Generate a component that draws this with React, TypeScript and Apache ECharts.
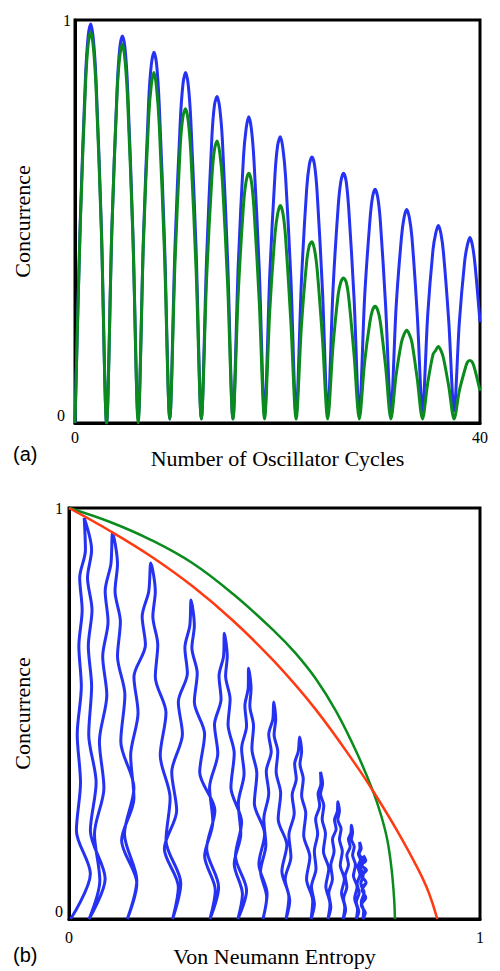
import React, { useEffect, useRef } from "react";
import * as echarts from "echarts";

// ---------- Panel (a): concurrence vs number of oscillator cycles ----------
const cycleTime = [
  0, 0.52, 1.04, 1.3, 1.56, 1.82, 2.08, 2.6,
  3.12, 3.64, 4.16, 4.42, 4.68, 4.94, 5.2, 5.72,
  6.24, 6.76, 7.28, 7.54, 7.8, 8.06, 8.32, 8.84,
  9.36, 9.88, 10.4, 10.66, 10.92, 11.18, 11.44, 11.96,
  12.48, 13, 13.52, 13.78, 14.04, 14.3, 14.56, 15.08,
  15.6, 16.12, 16.64, 16.9, 17.16, 17.42, 17.68, 18.2,
  18.72, 19.24, 19.76, 20.02, 20.28, 20.54, 20.8, 21.32,
  21.84, 22.36, 22.88, 23.14, 23.4, 23.66, 23.92, 24.44,
  24.96, 25.48, 26, 26.26, 26.52, 26.78, 27.04, 27.56,
  28.08, 28.6, 29.12, 29.38, 29.64, 29.9, 30.16, 30.68,
  31.2, 31.72, 32.24, 32.5, 32.76, 33.02, 33.28, 33.8,
  34.32, 34.84, 35.36, 35.62, 35.88, 36.14, 36.4, 36.92,
  37.44, 37.96, 38.48, 38.74, 39, 39.26, 39.52, 40,
];

const blueConcurrence = [
  0, 0.5, 0.86, 0.96, 0.99, 0.95, 0.85, 0.49,
  0, 0.48, 0.83, 0.93, 0.96, 0.93, 0.83, 0.47,
  0.01, 0.46, 0.8, 0.89, 0.92, 0.89, 0.79, 0.45,
  0.01, 0.44, 0.75, 0.84, 0.87, 0.84, 0.75, 0.43,
  0.01, 0.41, 0.71, 0.79, 0.81, 0.78, 0.7, 0.4,
  0.01, 0.39, 0.66, 0.73, 0.76, 0.73, 0.65, 0.38,
  0.02, 0.37, 0.62, 0.69, 0.71, 0.68, 0.61, 0.36,
  0.02, 0.35, 0.58, 0.64, 0.66, 0.64, 0.57, 0.33,
  0.02, 0.33, 0.54, 0.6, 0.62, 0.6, 0.53, 0.31,
  0.02, 0.31, 0.5, 0.56, 0.58, 0.56, 0.5, 0.29,
  0.03, 0.29, 0.46, 0.51, 0.53, 0.51, 0.46, 0.27,
  0.03, 0.27, 0.43, 0.47, 0.49, 0.47, 0.42, 0.25,
  0.03, 0.25, 0.4, 0.44, 0.46, 0.44, 0.39, 0.25,
];

const greenConcurrence = [
  0, 0.49, 0.84, 0.94, 0.97, 0.93, 0.83, 0.48,
  0, 0.48, 0.82, 0.91, 0.94, 0.9, 0.8, 0.46,
  0, 0.45, 0.76, 0.84, 0.87, 0.83, 0.74, 0.42,
  0.01, 0.4, 0.69, 0.76, 0.78, 0.75, 0.67, 0.38,
  0.01, 0.36, 0.61, 0.68, 0.7, 0.67, 0.6, 0.34,
  0.01, 0.32, 0.54, 0.6, 0.62, 0.6, 0.53, 0.3,
  0.01, 0.28, 0.47, 0.52, 0.54, 0.52, 0.46, 0.25,
  0.01, 0.24, 0.4, 0.44, 0.45, 0.43, 0.38, 0.21,
  0.01, 0.19, 0.32, 0.35, 0.36, 0.35, 0.31, 0.17,
  0.01, 0.15, 0.25, 0.28, 0.29, 0.28, 0.25, 0.14,
  0.01, 0.12, 0.2, 0.22, 0.23, 0.22, 0.2, 0.11,
  0.01, 0.1, 0.17, 0.18, 0.19, 0.18, 0.16, 0.09,
  0.01, 0.08, 0.13, 0.15, 0.155, 0.15, 0.13, 0.08,
];

// ---------- Panel (b): concurrence vs von Neumann entropy ----------
const greenBoundEntropy = [0, 0.1, 0.2, 0.3, 0.4, 0.5, 0.55, 0.6, 0.65, 0.7, 0.74, 0.76, 0.775, 0.785, 0.791, 0.793];
const greenBoundConcurrence = [1, 0.966, 0.922, 0.866, 0.79, 0.7, 0.648, 0.585, 0.505, 0.405, 0.31, 0.25, 0.19, 0.12, 0.05, 0];

const redBoundEntropy = [0, 0.1, 0.2, 0.3, 0.4, 0.5, 0.6, 0.7, 0.75, 0.8, 0.85, 0.875, 0.896];
const redBoundConcurrence = [1, 0.944, 0.882, 0.81, 0.725, 0.626, 0.51, 0.372, 0.295, 0.212, 0.12, 0.065, 0];

// rising strand of each cycle (entropy, concurrence)
const riseEntropy = [
  [0.004, 0.052, 0.018, 0.028, 0.02, 0.03, 0.024, 0.032, 0.026, 0.04, 0.037],
  [0.049, 0.075, 0.062, 0.085, 0.074, 0.092, 0.082, 0.095, 0.088, 0.102, 0.106],
  [0.142, 0.165, 0.128, 0.158, 0.15, 0.168, 0.158, 0.186, 0.178, 0.194, 0.199],
  [0.252, 0.266, 0.232, 0.262, 0.25, 0.276, 0.266, 0.288, 0.282, 0.294, 0.297],
  [0.343, 0.356, 0.33, 0.35, 0.342, 0.362, 0.354, 0.37, 0.365, 0.376, 0.378],
  [0.411, 0.422, 0.402, 0.418, 0.412, 0.426, 0.42, 0.432, 0.428, 0.436, 0.437],
  [0.472, 0.481, 0.466, 0.479, 0.474, 0.486, 0.48, 0.492, 0.486, 0.496, 0.498],
  [0.528, 0.537, 0.526, 0.54, 0.535, 0.548, 0.543, 0.553, 0.549, 0.558, 0.561],
  [0.589, 0.597, 0.59, 0.601, 0.597, 0.605, 0.6, 0.61, 0.606, 0.613, 0.612],
  [0.63, 0.637, 0.632, 0.641, 0.637, 0.645, 0.641, 0.65, 0.646, 0.653, 0.654],
  [0.667, 0.673, 0.668, 0.676, 0.672, 0.68, 0.676, 0.684, 0.68, 0.686, 0.687],
  [0.699, 0.705, 0.699, 0.706, 0.701, 0.708, 0.703, 0.709, 0.704, 0.708, 0.707],
  [0.715, 0.721, 0.711, 0.722, 0.713, 0.723, 0.712, 0.721, 0.713, 0.719, 0.716],
];
const riseConcurrence = [
  [0, 0.11, 0.215, 0.332, 0.449, 0.566, 0.664, 0.752, 0.83, 0.898, 0.976],
  [0, 0.094, 0.207, 0.319, 0.432, 0.545, 0.639, 0.723, 0.798, 0.864, 0.939],
  [0, 0.087, 0.191, 0.294, 0.398, 0.502, 0.589, 0.667, 0.736, 0.797, 0.866],
  [0, 0.078, 0.171, 0.264, 0.357, 0.45, 0.528, 0.598, 0.66, 0.714, 0.776],
  [0, 0.07, 0.153, 0.236, 0.32, 0.403, 0.473, 0.535, 0.591, 0.639, 0.695],
  [0, 0.061, 0.134, 0.207, 0.281, 0.354, 0.415, 0.47, 0.519, 0.561, 0.61],
  [0, 0.053, 0.116, 0.18, 0.243, 0.306, 0.359, 0.407, 0.449, 0.486, 0.528],
  [0, 0.044, 0.097, 0.151, 0.204, 0.257, 0.301, 0.341, 0.377, 0.408, 0.443],
  [0, 0.036, 0.079, 0.122, 0.165, 0.208, 0.243, 0.276, 0.304, 0.329, 0.358],
  [0, 0.029, 0.063, 0.097, 0.131, 0.165, 0.194, 0.219, 0.242, 0.262, 0.285],
  [0, 0.023, 0.05, 0.078, 0.105, 0.132, 0.155, 0.176, 0.194, 0.21, 0.228],
  [0, 0.019, 0.041, 0.064, 0.086, 0.108, 0.127, 0.144, 0.159, 0.172, 0.187],
  [0, 0.015, 0.034, 0.052, 0.071, 0.089, 0.105, 0.119, 0.131, 0.142, 0.154],
];

// falling strand of each cycle (entropy, concurrence)
const fallEntropy = [
  [0.055, 0.045, 0.056, 0.047, 0.055, 0.048, 0.066, 0.052, 0.088, 0.049],
  [0.118, 0.112, 0.125, 0.118, 0.136, 0.126, 0.158, 0.135, 0.165, 0.142],
  [0.21, 0.204, 0.216, 0.21, 0.236, 0.222, 0.246, 0.236, 0.272, 0.252],
  [0.305, 0.299, 0.312, 0.305, 0.33, 0.318, 0.355, 0.335, 0.364, 0.343],
  [0.385, 0.381, 0.392, 0.387, 0.402, 0.394, 0.42, 0.405, 0.432, 0.411],
  [0.443, 0.44, 0.449, 0.445, 0.457, 0.451, 0.476, 0.462, 0.482, 0.472],
  [0.503, 0.499, 0.508, 0.504, 0.515, 0.509, 0.53, 0.518, 0.535, 0.528],
  [0.566, 0.562, 0.57, 0.566, 0.576, 0.571, 0.586, 0.578, 0.593, 0.589],
  [0.617, 0.612, 0.62, 0.616, 0.624, 0.619, 0.632, 0.625, 0.635, 0.63],
  [0.658, 0.654, 0.662, 0.658, 0.665, 0.66, 0.67, 0.663, 0.671, 0.667],
  [0.69, 0.687, 0.694, 0.69, 0.697, 0.692, 0.701, 0.695, 0.702, 0.699],
  [0.711, 0.706, 0.713, 0.708, 0.716, 0.71, 0.718, 0.711, 0.717, 0.715],
  [0.722, 0.711, 0.724, 0.712, 0.723, 0.714],
];
const fallConcurrence = [
  [0.898, 0.83, 0.752, 0.664, 0.566, 0.449, 0.332, 0.215, 0.098, 0],
  [0.864, 0.798, 0.723, 0.639, 0.545, 0.432, 0.319, 0.207, 0.094, 0],
  [0.797, 0.736, 0.667, 0.589, 0.502, 0.398, 0.294, 0.191, 0.087, 0],
  [0.714, 0.66, 0.598, 0.528, 0.45, 0.357, 0.264, 0.171, 0.078, 0],
  [0.639, 0.591, 0.535, 0.473, 0.403, 0.32, 0.236, 0.153, 0.07, 0],
  [0.561, 0.519, 0.47, 0.415, 0.354, 0.281, 0.207, 0.134, 0.061, 0],
  [0.486, 0.449, 0.407, 0.359, 0.306, 0.243, 0.18, 0.116, 0.053, 0],
  [0.408, 0.377, 0.341, 0.301, 0.257, 0.204, 0.151, 0.097, 0.044, 0],
  [0.329, 0.304, 0.276, 0.243, 0.208, 0.165, 0.122, 0.079, 0.036, 0],
  [0.262, 0.242, 0.219, 0.194, 0.165, 0.131, 0.097, 0.063, 0.029, 0],
  [0.21, 0.194, 0.176, 0.155, 0.132, 0.105, 0.078, 0.05, 0.023, 0],
  [0.172, 0.159, 0.144, 0.127, 0.108, 0.086, 0.064, 0.041, 0.019, 0],
  [0.142, 0.131, 0.119, 0.105, 0.089, 0.08],
];

const xTicksA = [0, 40];
const xTicksB = [0, 1];
const yTicks = [0, 1];

const zip = (xs: number[], ys: number[]) => xs.map((x, i) => [x, ys[i]]);

const loopData: number[][] = [];
riseEntropy.forEach((xs, c) => {
  zip(xs, riseConcurrence[c]).forEach((p) => loopData.push(p));
  zip(fallEntropy[c], fallConcurrence[c]).forEach((p) => loopData.push(p));
});

const SERIF = "Liberation Serif";
const SANS = "Liberation Sans";
const BLUE = "#2532f2";
const GREEN = "#0b8b1d";
const RED = "#ff3a12";

const frameAxis = (extra: any) => ({
  type: "value",
  axisLine: { show: true, lineStyle: { color: "#000", width: 3 } },
  axisTick: { show: false },
  splitLine: { show: false },
  ...extra,
});

const tickFont = { color: "#000", fontFamily: SERIF, fontSize: 16 };

export default function App() {
  const ref = useRef<HTMLDivElement>(null);
  useEffect(() => {
    const chart = echarts.init(ref.current!, null, { renderer: "svg" });
    const option: any = {
      animation: false,
      backgroundColor: "#fff",
      grid: [
        { left: 75, top: 20, width: 405, height: 403, show: true, borderColor: "#000", borderWidth: 3 },
        { left: 69, top: 508, width: 411, height: 411, show: true, borderColor: "#000", borderWidth: 3 },
      ],
      xAxis: [
        frameAxis({
          gridIndex: 0,
          min: xTicksA[0],
          max: xTicksA[1],
          interval: xTicksA[1] - xTicksA[0],
          axisLabel: { ...tickFont, margin: 6 },
          name: "Number of Oscillator Cycles",
          nameLocation: "middle",
          nameGap: 24,
          nameTextStyle: { color: "#000", fontFamily: SERIF, fontSize: 22 },
        }),
        frameAxis({
          gridIndex: 1,
          min: xTicksB[0],
          max: xTicksB[1],
          interval: xTicksB[1] - xTicksB[0],
          axisLabel: { ...tickFont, margin: 10 },
          name: "Von Neumann Entropy",
          nameLocation: "middle",
          nameGap: 25,
          nameTextStyle: { color: "#000", fontFamily: SERIF, fontSize: 22 },
        }),
      ],
      yAxis: [
        frameAxis({
          gridIndex: 0,
          min: yTicks[0],
          max: yTicks[1],
          interval: yTicks[1] - yTicks[0],
          axisLabel: {
            ...tickFont,
            margin: 4,
            verticalAlignMinLabel: "bottom",
            formatter: (v: number) => (v === 0 ? "{z|0}" : "{o|1}"),
            rich: {
              z: { ...tickFont, padding: [0, 6, 0, 0] },
              o: { ...tickFont },
            },
          },
          name: "Concurrence",
          nameLocation: "middle",
          nameGap: 42,
          nameTextStyle: { color: "#000", fontFamily: SERIF, fontSize: 22 },
        }),
        frameAxis({
          gridIndex: 1,
          min: yTicks[0],
          max: yTicks[1],
          interval: yTicks[1] - yTicks[0],
          axisLabel: { ...tickFont, margin: 6, verticalAlignMinLabel: "bottom" },
          name: "Concurrence",
          nameLocation: "middle",
          nameGap: 36,
          nameTextStyle: { color: "#000", fontFamily: SERIF, fontSize: 22 },
        }),
      ],
      graphic: [
        { type: "text", left: 13, top: 444, style: { text: "(a)", fontFamily: SANS, fontSize: 20, fill: "#000" } },
        { type: "text", left: 13, top: 945, style: { text: "(b)", fontFamily: SANS, fontSize: 20, fill: "#000" } },
      ],
      series: [
        {
          type: "line",
          xAxisIndex: 0,
          yAxisIndex: 0,
          data: zip(cycleTime, blueConcurrence),
          symbol: "none",
          smooth: 0.3,
          lineStyle: { color: BLUE, width: 3 },
        },
        {
          type: "line",
          xAxisIndex: 0,
          yAxisIndex: 0,
          data: zip(cycleTime, greenConcurrence),
          symbol: "none",
          smooth: 0.3,
          lineStyle: { color: GREEN, width: 3 },
        },
        {
          type: "line",
          xAxisIndex: 1,
          yAxisIndex: 1,
          data: loopData,
          symbol: "none",
          smooth: 0.3,
          lineStyle: { color: BLUE, width: 3 },
        },
        {
          type: "line",
          xAxisIndex: 1,
          yAxisIndex: 1,
          data: zip(greenBoundEntropy, greenBoundConcurrence),
          symbol: "none",
          smooth: 0.4,
          lineStyle: { color: GREEN, width: 2.5 },
        },
        {
          type: "line",
          xAxisIndex: 1,
          yAxisIndex: 1,
          data: zip(redBoundEntropy, redBoundConcurrence),
          symbol: "none",
          smooth: 0.4,
          lineStyle: { color: RED, width: 2.5 },
        },
      ],
    };
    chart.setOption(option);
    return () => chart.dispose();
  }, []);
  return (
    <div
      ref={ref}
      style={{ position: "absolute", left: 0, top: 0, width: 500, height: 971, background: "#fff" }}
    />
  );
}
